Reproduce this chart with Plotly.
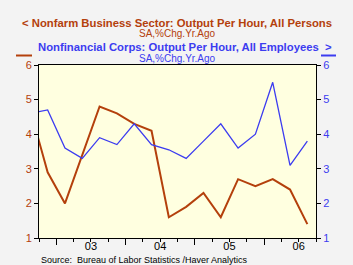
import plotly.graph_objects as go

# Quarterly data, 2002Q3 .. 2006Q3
quarters = ["2002Q3", "2002Q4",
            "2003Q1", "2003Q2", "2003Q3", "2003Q4",
            "2004Q1", "2004Q2", "2004Q3", "2004Q4",
            "2005Q1", "2005Q2", "2005Q3", "2005Q4",
            "2006Q1", "2006Q2", "2006Q3"]
nonfarm = [4.7, 2.9, 2.0, 3.4, 4.8, 4.6, 4.3, 4.1, 1.6, 1.9, 2.3, 1.6, 2.7, 2.5, 2.7, 2.4, 1.4]
nonfin = [4.6, 4.7, 3.6, 3.3, 3.9, 3.7, 4.3, 3.7, 3.55, 3.3, 3.8, 4.3, 3.6, 4.0, 5.5, 3.1, 3.8]
year_labels = ["03", "04", "05", "06"]
year_centers = [2003.5, 2004.5, 2005.5, 2006.5]


def qpos(q):
    y, n = q.split("Q")
    return int(y) + (int(n) - 0.5) / 4.0


x = [qpos(q) for q in quarters]

RED = "#B4400C"
BLUE = "#3C3CF0"
W, H = 353, 265
L, R, T, B = 39, 37, 65, 27
ph = H - T - B
pw = W - L - R


def py(ypix):
    return (H - B - ypix) / ph


def px(xpix):
    return (xpix - L) / pw


fig = go.Figure()
fig.add_trace(go.Scatter(x=x, y=nonfarm, mode="lines", line=dict(color=RED, width=2),
                         yaxis="y", xaxis="x", showlegend=False))
fig.add_trace(go.Scatter(x=x, y=nonfin, mode="lines", line=dict(color=BLUE, width=1.3),
                         yaxis="y2", xaxis="x", showlegend=False))
# invisible trace to activate label axis
fig.add_trace(go.Scatter(x=[2003.5], y=[None], xaxis="x2", yaxis="y", showlegend=False,
                         hoverinfo="skip"))

xr = [2002.75, 2006.75]
fig.update_layout(
    width=W, height=H,
    margin=dict(l=L, r=R, t=T, b=B),
    paper_bgcolor="#F3F3F3",
    plot_bgcolor="#FFFFE0",
    font=dict(family="Liberation Sans, Arial, sans-serif"),
    xaxis=dict(range=xr, tickvals=[2003, 2004, 2005, 2006], ticktext=["", "", "", ""],
               ticks="outside", ticklen=6, tickcolor="black", tickwidth=1,
               minor=dict(dtick=0.25, tick0=2002.75, ticks="outside", ticklen=3,
                          tickcolor="black", tickwidth=1),
               showgrid=False, zeroline=False, showline=True, linecolor="black",
               linewidth=1, mirror=True),
    xaxis2=dict(range=xr, overlaying="x", side="bottom", tickvals=year_centers,
                ticktext=year_labels, ticks="", showgrid=False, zeroline=False,
                showline=False, tickfont=dict(size=11, color="black")),
    yaxis=dict(range=[1, 6], dtick=1, ticks="outside", ticklen=4, tickcolor="black",
               showgrid=False, zeroline=False, showline=True, linecolor="black",
               linewidth=1, tickfont=dict(size=11, color=RED)),
    yaxis2=dict(range=[1, 6], dtick=1, ticks="outside", ticklen=4, tickcolor="black",
                overlaying="y", side="right", showgrid=False, zeroline=False,
                showline=True, linecolor="black", linewidth=1,
                tickfont=dict(size=11, color=BLUE)),
    annotations=[
        dict(text="<b>&lt; Nonfarm Business Sector: Output Per Hour, All Persons</b>",
             x=px(177), y=py(23), xref="paper", yref="paper", showarrow=False,
             xanchor="center", yanchor="middle", font=dict(size=11.3, color=RED)),
        dict(text="SA,%Chg.Yr.Ago", x=px(177), y=py(34), xref="paper", yref="paper",
             showarrow=False, xanchor="center", yanchor="middle",
             font=dict(size=10, color=RED)),
        dict(text="<b>Nonfinancial Corps: Output Per Hour, All Employees  &gt;</b>",
             x=px(185), y=py(47), xref="paper", yref="paper", showarrow=False,
             xanchor="center", yanchor="middle", font=dict(size=11.3, color=BLUE)),
        dict(text="SA,%Chg.Yr.Ago", x=px(177), y=py(59), xref="paper", yref="paper",
             showarrow=False, xanchor="center", yanchor="middle",
             font=dict(size=10, color=BLUE)),
        dict(text="Source:  Bureau of Labor Statistics /Haver Analytics", x=px(39),
             y=py(260), xref="paper", yref="paper", showarrow=False, xanchor="left",
             yanchor="middle", font=dict(size=9, color="black")),
    ],
    shapes=[
        dict(type="line", xref="paper", yref="paper", x0=px(16), x1=px(32),
             y0=py(55.5), y1=py(55.5), line=dict(color=RED, width=2)),
        dict(type="line", xref="paper", yref="paper", x0=px(321), x1=px(336),
             y0=py(55.5), y1=py(55.5), line=dict(color=BLUE, width=2)),
    ],
)

fig.write_html("out.html")
